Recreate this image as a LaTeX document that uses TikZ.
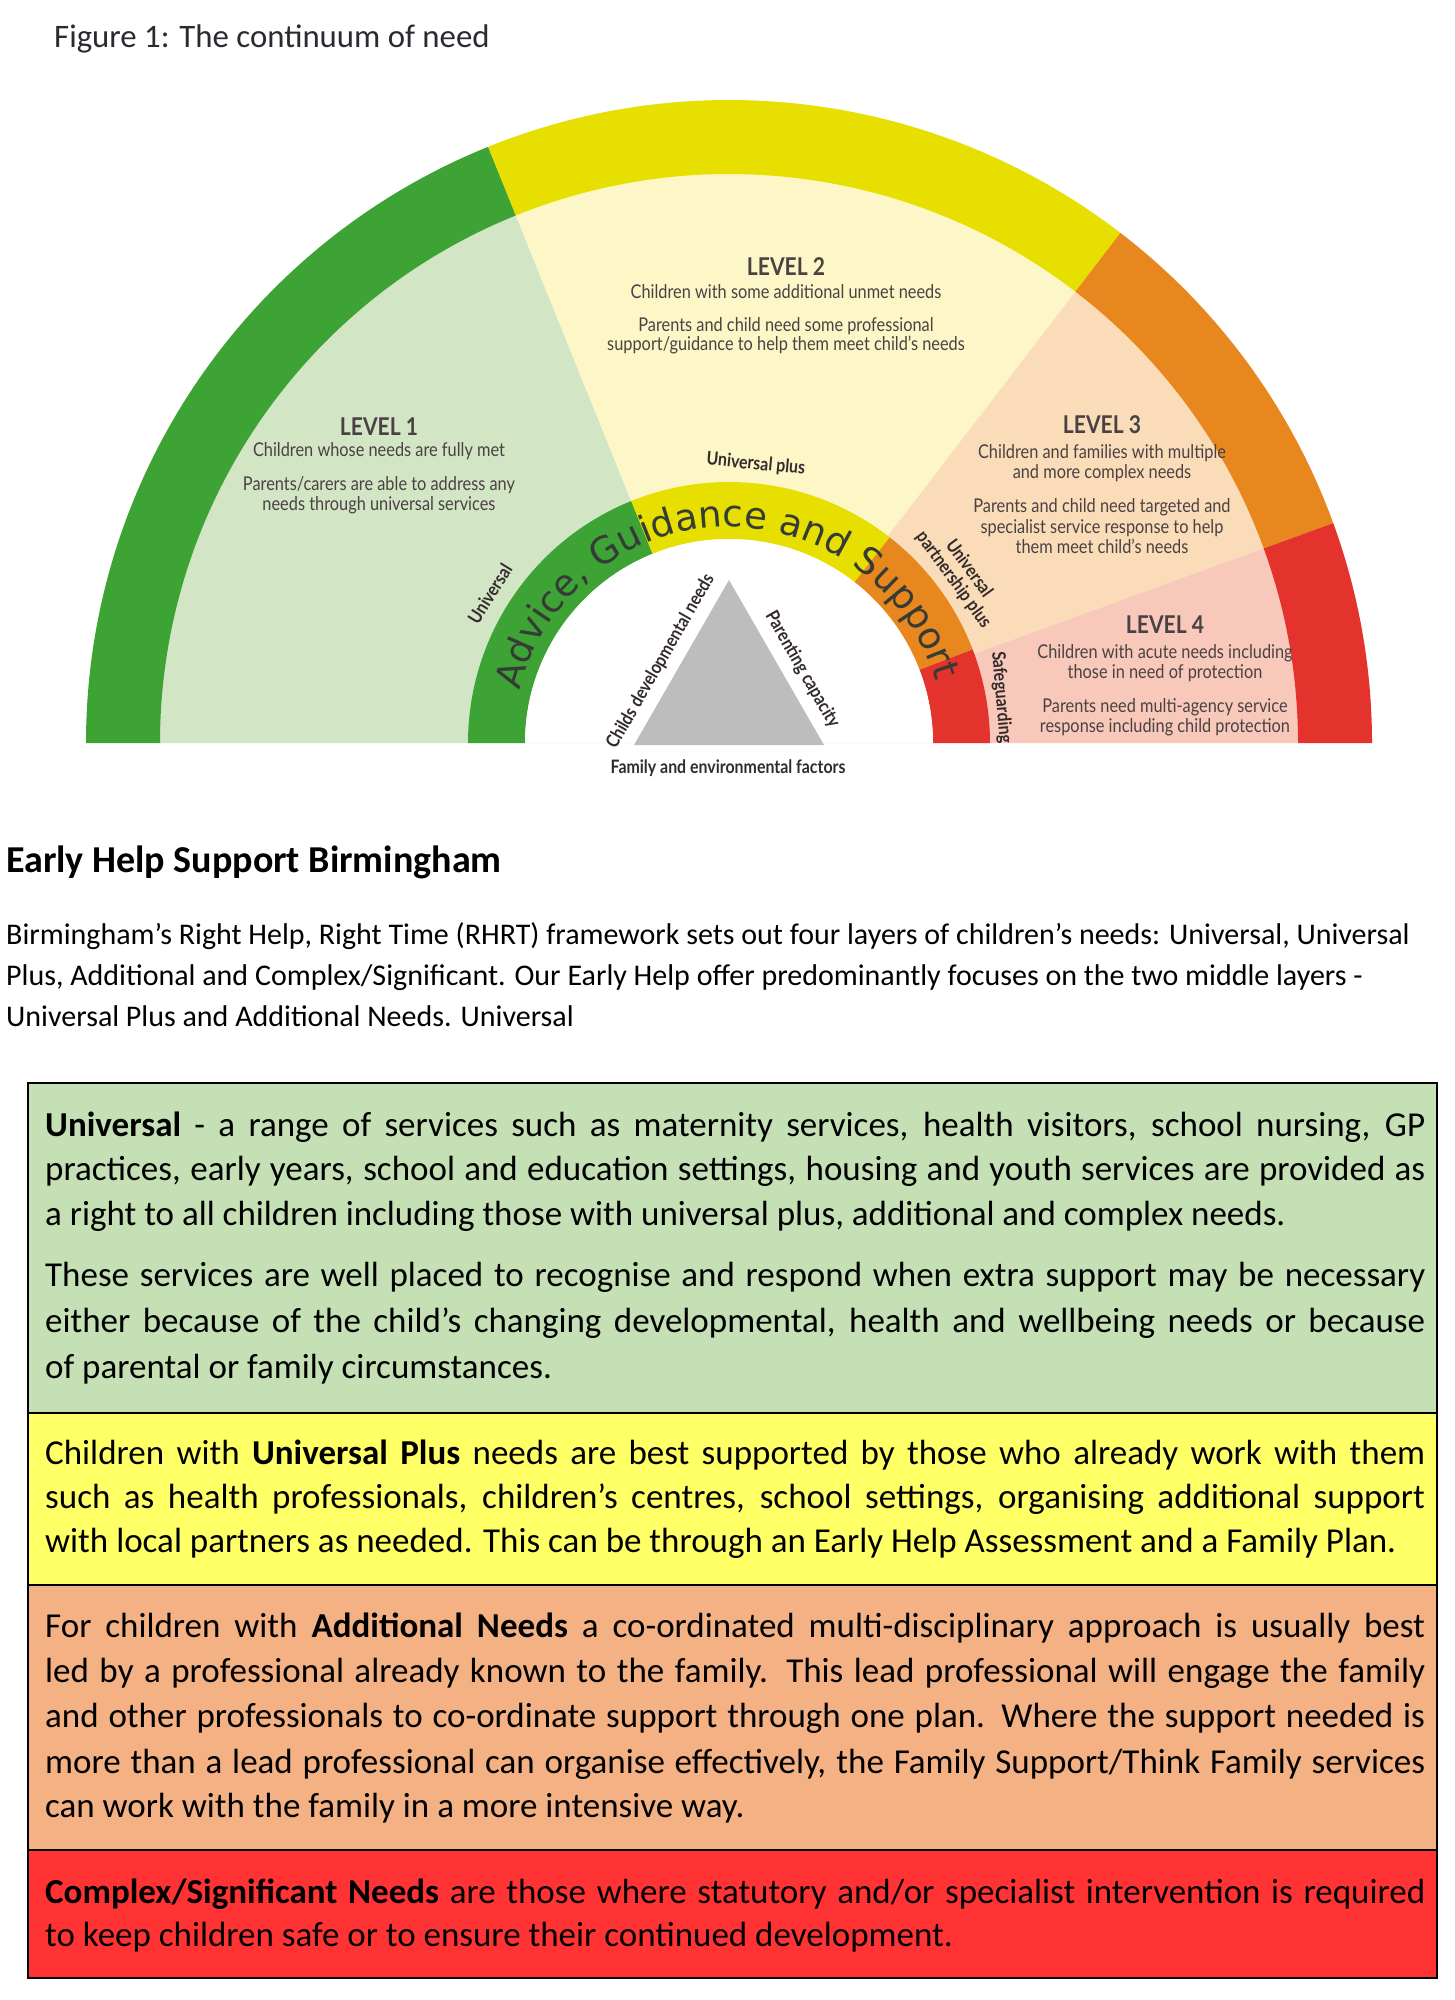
\documentclass[tikz,border=0pt]{standalone}
\usepackage{fontspec}
\setmainfont{Carlito}
\newfontfamily\dfont[FakeStretch=0.86]{Lato}
\newfontfamily\ringfont{DejaVu Sans}
\usetikzlibrary{calc,decorations.text}
\definecolor{bgreen}{HTML}{3EA335}
\definecolor{byellow}{HTML}{E6DF00}
\definecolor{borange}{HTML}{E8871E}
\definecolor{bred}{HTML}{E4322D}
\definecolor{pgreen}{HTML}{D2E5C5}
\definecolor{pyellow}{HTML}{FDF7C8}
\definecolor{porange}{HTML}{FBDCB9}
\definecolor{pred}{HTML}{F8C8BB}
\definecolor{tri}{HTML}{BDBDBD}
\definecolor{dtext}{HTML}{4A4242}
\definecolor{tagtext}{HTML}{332B2B}
\definecolor{ringtext}{HTML}{363B36}
\definecolor{capgray}{HTML}{2A2A30}
\definecolor{boxgreen}{HTML}{C5E0B4}
\definecolor{boxyellow}{HTML}{FFFF66}
\definecolor{boxorange}{HTML}{F4B183}
\definecolor{boxred}{HTML}{FF3333}
\newcommand\bandseg[5]{\fill[#5] ($(O)+(#1:#3)$) arc[start angle=#1,end angle=#2,radius=#3pt] -- ($(O)+(#2:#4)$) arc[start angle=#2,end angle=#1,radius=#4pt] -- cycle;}
\newcommand\jl[1]{\makebox[1380pt][s]{#1}}
\begin{document}
\begin{tikzpicture}[x=1pt,y=1pt,
  lvlhead/.style={font=\dfont\bfseries\fontsize{24.5}{25}\selectfont, text=dtext, inner sep=0pt, anchor=base},
  lvltext/.style={font=\dfont\fontsize{19}{20}\selectfont, text=dtext, inner sep=0pt, anchor=base},
  tag/.style={font=\dfont\bfseries\fontsize{18.5}{19}\selectfont, text=tagtext, inner sep=0pt},
  boxline/.style={font=\fontsize{35}{40}\selectfont, inner sep=0pt, anchor=base west},
  paraline/.style={font=\fontsize{30}{34}\selectfont, inner sep=0pt, anchor=base west},
  rule/.style={line width=2.5pt, draw=black}]
\useasboundingbox (0,0) rectangle (1455,-2000);
\fill[white] (0,0) rectangle (1455,-2000);

\node[anchor=base west, inner sep=0pt, font=\fontsize{32.8}{36}\selectfont, text=capgray] (cap) at (54,-47) {Figure 1: The continuum of need};

\coordinate (O) at (729,-743);
% pale sectors
\fill[pgreen] (O) -- ($(O)+(112:570)$) arc[start angle=112,end angle=180,radius=570pt] -- cycle;
\fill[pyellow] (O) -- ($(O)+(52.5:570)$) arc[start angle=52.5,end angle=112,radius=570pt] -- cycle;
\fill[porange] (O) -- ($(O)+(20:570)$) arc[start angle=20,end angle=52.5,radius=570pt] -- cycle;
\fill[pred] (O) -- ($(O)+(0:570)$) arc[start angle=0,end angle=20,radius=570pt] -- cycle;
% outer band
\bandseg{112}{180}{643}{569}{bgreen}
\bandseg{52.5}{112}{643}{569}{byellow}
\bandseg{20}{52.5}{643}{569}{borange}
\bandseg{0}{20}{643}{569}{bred}
% inner ring
\bandseg{112}{180}{261}{204}{bgreen}
\bandseg{52}{112}{261}{204}{byellow}
\bandseg{21}{52}{261}{204}{borange}
\bandseg{0}{21}{261}{204}{bred}
\fill[white] ($(O)+(0:204)$) arc[start angle=0,end angle=180,radius=204pt] -- cycle;

% ring text
\path[decorate, decoration={text along path, text align={fit to path}, text color=ringtext,
  text={|\ringfont\fontsize{37}{37}\selectfont|Advice, Guidance and Support}}]
  ($(O)+(166:216)$) arc[start angle=166,end angle=16.5,radius=216pt];

% ring tags
\node[tag, rotate=58] (tU) at ($(O)+(148:282)$) {Universal};
\node[tag, rotate=-5.5] (tUP) at ($(O)+(84.5:280)$) {Universal plus};
\node[tag, rotate=-54, align=center] (tUPP) at ($(O)+(36:287)$) {Universal\\partnership plus};
\node[tag, rotate=-85] (tS) at ($(O)+(9.5:276)$) {Safeguarding};

% triangle
\coordinate (TA) at (729,-580);
\coordinate (TL) at (634,-745);
\coordinate (TR) at (824,-745);
\fill[tri] (TA) -- (TL) -- (TR) -- cycle;
\path (TL) -- node[tag, sloped, anchor=south, inner sep=10pt, pos=0.45] (tCD) {Childs developmental needs} (TA);
\path (TA) -- node[tag, sloped, anchor=south, inner sep=10pt, pos=0.6] (tPC) {Parenting capacity} (TR);
\node[tag, anchor=base] (tFE) at (728,-773) {Family and environmental factors};

% level texts
\node[lvlhead] (l1h) at (379,-435) {LEVEL 1};
\node[lvltext] (l1a) at (379,-456) {Children whose needs are fully met};
\node[lvltext] (l1b) at (379,-490) {Parents/carers are able to address any};
\node[lvltext] (l1c) at (379,-510) {needs through universal services};

\node[lvlhead] (l2h) at (786,-275) {LEVEL 2};
\node[lvltext] (l2a) at (786,-298) {Children with some additional unmet needs};
\node[lvltext] (l2b) at (786,-331) {Parents and child need some professional};
\node[lvltext] (l2c) at (786,-350) {support/guidance to help them meet child’s needs};

\node[lvlhead] (l3h) at (1102,-433) {LEVEL 3};
\node[lvltext] (l3a) at (1102,-458) {Children and families with multiple};
\node[lvltext] (l3b) at (1102,-478) {and more complex needs};
\node[lvltext] (l3c) at (1102,-512) {Parents and child need targeted and};
\node[lvltext] (l3d) at (1102,-533) {specialist service response to help};
\node[lvltext] (l3e) at (1102,-553) {them meet child’s needs};

\node[lvlhead] (l4h) at (1165,-633) {LEVEL 4};
\node[lvltext] (l4a) at (1165,-658) {Children with acute needs including};
\node[lvltext] (l4b) at (1165,-678) {those in need of protection};
\node[lvltext] (l4c) at (1165,-712) {Parents need multi-agency service};
\node[lvltext] (l4d) at (1165,-732) {response including child protection};

% heading and paragraph
\node[anchor=base west, inner sep=0pt, font=\bfseries\fontsize{38}{40}\selectfont] (hd) at (6,-872) {Early Help Support Birmingham};
\node[paraline] (p1) at (6,-944) {Birmingham’s Right Help, Right Time (RHRT) framework sets out four layers of children’s needs: Universal, Universal};
\node[paraline] (p2) at (6,-985) {Plus, Additional and Complex/Significant. Our Early Help offer predominantly focuses on the two middle layers -};
\node[paraline] (p3) at (6,-1026) {Universal Plus and Additional Needs. Universal};

% boxes
\fill[boxgreen] (28,-1083) rectangle (1437,-1413);
\fill[boxyellow] (28,-1413) rectangle (1437,-1585);
\fill[boxorange] (28,-1585) rectangle (1437,-1850);
\fill[boxred] (28,-1850) rectangle (1437,-1978);
\draw[rule] (28,-1083) rectangle (1437,-1978);
\draw[rule] (28,-1413) -- (1437,-1413);
\draw[rule] (28,-1585) -- (1437,-1585);
\draw[rule] (28,-1850) -- (1437,-1850);

\node[boxline] (g1) at (45,-1136) {\jl{\textbf{Universal} - a range of services such as maternity services, health visitors, school nursing, GP}};
\node[boxline] (g2) at (45,-1180) {\jl{practices, early years, school and education settings, housing and youth services are provided as}};
\node[boxline] (g3) at (45,-1225) {a right to all children including those with universal plus, additional and complex needs.};
\node[boxline] (g4) at (45,-1286) {\jl{These services are well placed to recognise and respond when extra support may be necessary}};
\node[boxline] (g5) at (45,-1332) {\jl{either because of the child’s changing developmental, health and wellbeing needs or because}};
\node[boxline] (g6) at (45,-1378) {of parental or family circumstances.};

\node[boxline] (y1) at (45,-1464) {\jl{Children with \textbf{Universal Plus} needs are best supported by those who already work with them}};
\node[boxline] (y2) at (45,-1508) {\jl{such as health professionals, children’s centres, school settings, organising additional support}};
\node[boxline] (y3) at (45,-1552) {with local partners as needed. This can be through an Early Help Assessment and a Family Plan.};

\node[boxline] (o1) at (45,-1637) {\jl{For children with \textbf{Additional Needs} a co-ordinated multi-disciplinary approach is usually best}};
\node[boxline] (o2) at (45,-1682) {\jl{led by a professional already known to the family. This lead professional will engage the family}};
\node[boxline] (o3) at (45,-1727) {\jl{and other professionals to co-ordinate support through one plan. Where the support needed is}};
\node[boxline] (o4) at (45,-1773) {\jl{more than a lead professional can organise effectively, the Family Support/Think Family services}};
\node[boxline] (o5) at (45,-1817) {can work with the family in a more intensive way.};

\node[boxline] (r1) at (45,-1903) {\jl{\textbf{Complex/Significant Needs} are those where statutory and/or specialist intervention is required}};
\node[boxline] (r2) at (45,-1946) {to keep children safe or to ensure their continued development.};
\end{tikzpicture}
\end{document}
